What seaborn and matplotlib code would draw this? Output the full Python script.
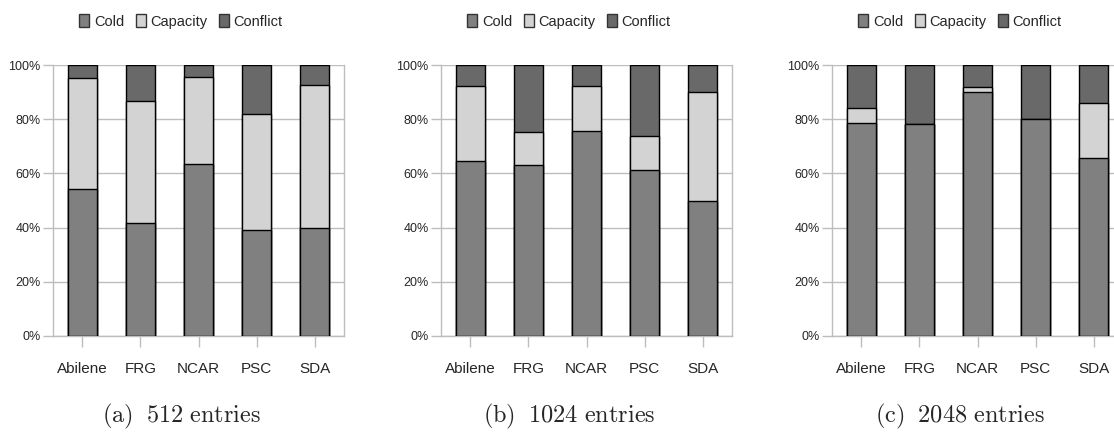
import matplotlib
matplotlib.use("Agg")
import matplotlib.pyplot as plt
from matplotlib.patches import Patch
import seaborn as sns
import numpy as np

sns.set_style("white")
plt.rcParams['font.family'] = ['Liberation Sans Narrow', 'Liberation Sans', 'DejaVu Sans']
plt.rcParams['mathtext.fontset'] = 'cm'

categories = ["Abilene", "FRG", "NCAR", "PSC", "SDA"]
series_names = ["Cold", "Capacity", "Conflict"]
caption_tags = ["(a)", "(b)", "(c)"]
caption_texts = ["512 entries", "1024 entries", "2048 entries"]
y_ticks = [0, 20, 40, 60, 80, 100]
y_tick_labels = ["0%", "20%", "40%", "60%", "80%", "100%"]

cold_512 = [54.4, 41.7, 63.5, 39.2, 40.0]
capacity_512 = [40.8, 44.9, 32.2, 42.7, 52.7]
conflict_512 = [4.8, 13.4, 4.3, 18.1, 7.3]

cold_1024 = [64.4, 63.0, 75.6, 61.3, 49.7]
capacity_1024 = [27.8, 12.2, 16.6, 12.4, 40.4]
conflict_1024 = [7.8, 24.8, 7.8, 26.3, 9.9]

cold_2048 = [78.7, 78.2, 90.2, 80.0, 65.7]
capacity_2048 = [5.6, 0.0, 1.8, 0.0, 20.3]
conflict_2048 = [15.7, 21.8, 8.0, 20.0, 14.0]

panels = [
    (cold_512, capacity_512, conflict_512),
    (cold_1024, capacity_1024, conflict_1024),
    (cold_2048, capacity_2048, conflict_2048),
]

colors = {"Cold": "#808080", "Capacity": "#d3d3d3", "Conflict": "#696969"}
grid_col = "#bdbdbd"

W, H = 1114, 433
fig = plt.figure(figsize=(W / 100, H / 100), dpi=100)
lefts = [53, 441, 832]
ax_w, ax_h = 291, 271
ax_bottom = H - 336

for i, (cold, cap, conf) in enumerate(panels):
    ax = fig.add_axes([lefts[i] / W, ax_bottom / H, ax_w / W, ax_h / H])
    cold = np.array(cold)
    cap = np.array(cap)
    conf = np.array(conf)
    stacks = [
        (cold + cap + conf, colors["Conflict"]),
        (cold + cap, colors["Capacity"]),
        (cold, colors["Cold"]),
    ]
    for vals, col in stacks:
        sns.barplot(x=categories, y=vals, color=col, saturation=1, width=0.5,
                    edgecolor="black", linewidth=1.0, ax=ax, zorder=3)
    ax.set_xlim(-0.5, 4.5)
    ax.set_ylim(0, 100)
    ax.set_yticks(y_ticks)
    ax.set_yticklabels(y_tick_labels, fontsize=9, family=['Liberation Sans', 'DejaVu Sans'])
    ax.set_xticks(range(len(categories)))
    ax.set_xticklabels(categories, fontsize=11)
    ax.yaxis.grid(True, color=grid_col, linewidth=1.0, zorder=0)
    ax.set_axisbelow(True)
    for s in ["left", "right", "bottom"]:
        ax.spines[s].set_visible(True)
        ax.spines[s].set_color(grid_col)
        ax.spines[s].set_linewidth(1.0)
    ax.spines["top"].set_visible(False)
    ax.tick_params(axis="y", length=7, color=grid_col, width=1.0, pad=2, left=True)
    ax.tick_params(axis="x", length=8, color=grid_col, width=1.0, pad=11, bottom=True)
    ax.set_xlabel("")
    ax.set_ylabel("")

    handles = [Patch(facecolor=colors[n], edgecolor="#333333", label=n) for n in series_names]
    ax.legend(handles=handles, loc="center", bbox_to_anchor=(0.44, 1.16), ncol=3,
              frameon=False, fontsize=10.5, handlelength=0.7, handleheight=1.0,
              handletextpad=0.3, columnspacing=0.8, borderaxespad=0)

    cx = (lefts[i] + 0.44 * ax_w) / W
    body = caption_texts[i].replace(" ", r"\ ")
    label = r"$\mathrm{" + caption_tags[i] + r"\;\ " + body + "}$"
    fig.text(cx, 17 / H, label, ha="center", va="center", fontsize=17.5)

fig.savefig("out.png", dpi=100)
